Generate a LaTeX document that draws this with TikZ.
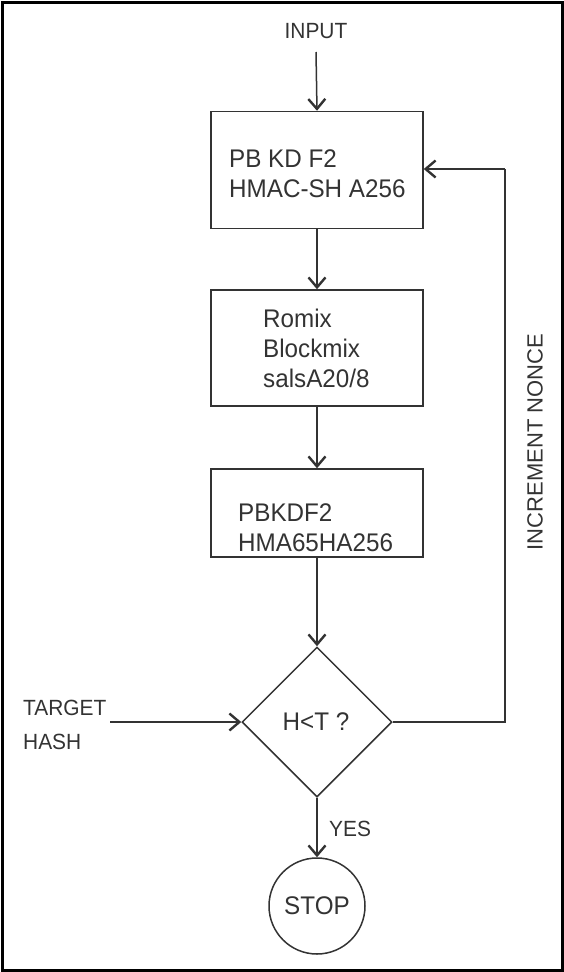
\documentclass[tikz,border=0pt]{standalone}
\usepackage{fontspec}
\setmainfont{Liberation Sans}[FakeStretch=0.95]
\newfontfamily\plainsans{Liberation Sans}
\usetikzlibrary{shapes.geometric,arrows.meta}
\definecolor{ln}{HTML}{333333}
\begin{document}
\begin{tikzpicture}[x=1pt,y=-1pt,
  box/.style={draw=ln,line width=1.5pt,rectangle,minimum width=212pt,inner sep=0pt},
  txt/.style={font=\fontsize{25.5}{30}\selectfont,text=ln,inner sep=0pt,align=left},
  lbl/.style={font=\fontsize{22}{34}\selectfont,text=ln,inner sep=0pt,align=left},
  arr/.style={draw=ln,line width=1.5pt,-{Straight Barb[length=10pt,width=17pt,line width=2.4pt]}},
  con/.style={draw=ln,line width=1.5pt}]
\useasboundingbox (0,0) rectangle (564,972);
\draw[line width=3pt] (2,2) rectangle (562,970);
\node[lbl] (input) at (316,31) {INPUT};
\node[box,minimum height=117pt] (b1) at (317,170) {};
\node[txt,anchor=west] (t1) at (229,174) {PB KD F2\\HMAC-SH A256};
\node[box,minimum height=116pt] (b2) at (317,348) {};
\node[txt,anchor=west] (t2) at (263,348) {Romix\\Blockmix\\salsA20/8};
\node[box,minimum height=88pt] (b3) at (317,513) {};
\node[txt,anchor=west] (t3) at (238,527.5) {PBKDF2\\HMA65HA256};
\node[draw=ln,line width=1.5pt,diamond,aspect=1,minimum size=150pt,inner sep=0pt] (d) at (317,722) {};
\node[txt] (dt) at (316,722) {H<T ?};
\node[draw=ln,line width=1.5pt,circle,minimum size=96pt,inner sep=0pt] (stop) at (317,906) {};
\node[txt] (st) at (317,906) {STOP};
\node[lbl,anchor=west] (th) at (23,725) {TARGET\\HASH};
\node[lbl,anchor=west] (yes) at (329,829) {YES};
\node[lbl,font=\plainsans\fontsize{22}{26}\selectfont,rotate=90] (inc) at (535,442) {INCREMENT NONCE};
\coordinate (c1) at (505,722);
\coordinate (c2) at (505,169);
\coordinate (ts) at (110,722);
\draw[arr] (input.south |- 0,52) -- (b1.north);
\draw[arr] (b1) -- (b2);
\draw[arr] (b2) -- (b3);
\draw[arr] (b3.south) -- (d.north);
\draw[arr] (d.south) -- (stop.north);
\draw[arr] (ts) -- (d.west);
\draw[con] (d.east) -- (c1) -- (c2);
\draw[arr] (c2) -- (b1.east |- c2);
\end{tikzpicture}
\end{document}
